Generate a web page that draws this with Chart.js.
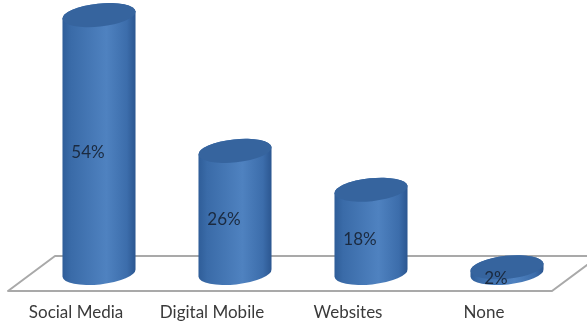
<!DOCTYPE html>
<html>
<head>
<meta charset="utf-8">
<style>
  html, body { margin: 0; padding: 0; background: #fff; }
  #wrap { width: 587px; height: 322px; }
</style>
<script src="https://cdn.jsdelivr.net/npm/chart.js@4/dist/chart.umd.js"></script>
</head>
<body>
<div id="wrap"><canvas id="chart"></canvas></div>
<script>
const categories = ['Social Media', 'Digital Mobile', 'Websites', 'None'];
const shares = [54, 26, 18, 2];

// Oblique projection of the 3D floor and the cylinders standing on it.
const FLOOR_DX = 47, FLOOR_DY = 35;
const BAR_DX = 23, TOP_DY = 14, BASE_DY = 18;
const TILT = -6 * Math.PI / 180;
const CAP_RY = 11.5;

const cylinders = {
  id: 'cylinders',
  beforeDatasetsDraw(chart) {
    const { ctx, chartArea: a } = chart;
    ctx.save();
    ctx.strokeStyle = '#a9a9a9';
    ctx.lineWidth = 2;
    ctx.lineJoin = 'round';
    ctx.beginPath();
    ctx.moveTo(a.left, a.bottom);
    ctx.lineTo(a.right, a.bottom);
    ctx.lineTo(a.right + FLOOR_DX, a.bottom - FLOOR_DY);
    ctx.lineTo(a.left + FLOOR_DX, a.bottom - FLOOR_DY);
    ctx.closePath();
    ctx.stroke();
    ctx.restore();
  },
  afterDatasetsDraw(chart) {
    const { ctx } = chart;
    const yScale = chart.scales.y;
    chart.getDatasetMeta(0).data.forEach((bar, i) => {
      const cx = bar.x + BAR_DX;
      const rx = bar.width / 2;
      const topY = bar.y - TOP_DY;
      const baseY = bar.base - BASE_DY;

      const side = ctx.createLinearGradient(cx - rx, 0, cx + rx, 0);
      side.addColorStop(0, '#2f5d98');
      side.addColorStop(0.12, '#3a6ba8');
      side.addColorStop(0.6, '#4f82c0');
      side.addColorStop(0.88, '#3c6dab');
      side.addColorStop(1, '#2b5690');

      ctx.save();
      ctx.beginPath();
      ctx.ellipse(cx, baseY, rx, CAP_RY, TILT, 0, Math.PI);
      ctx.ellipse(cx, topY, rx, CAP_RY, TILT, Math.PI, 2 * Math.PI);
      ctx.closePath();
      ctx.fillStyle = side;
      ctx.fill();

      ctx.beginPath();
      ctx.ellipse(cx, topY, rx, CAP_RY, TILT, 0, 2 * Math.PI);
      ctx.fillStyle = '#36649e';
      ctx.fill();

      // Value label, set left of the cylinder axis at half height.
      const labelY = yScale.getPixelForValue(shares[i] / 2) - 8;
      ctx.font = '17px Lato, "Open Sans", sans-serif';
      ctx.fillStyle = '#1b2a3f';
      ctx.textAlign = 'center';
      ctx.textBaseline = 'middle';
      ctx.fillText(shares[i] + '%', bar.x + 12, labelY);
      ctx.restore();
    });
  }
};

new Chart(document.getElementById('chart'), {
  type: 'bar',
  data: {
    labels: categories,
    datasets: [{
      data: shares,
      backgroundColor: 'transparent',
      borderWidth: 0,
      categoryPercentage: 1,
      barPercentage: 0.54
    }]
  },
  options: {
    responsive: true,
    maintainAspectRatio: false,
    animation: false,
    layout: { padding: { left: 8, right: 35, top: 0, bottom: 0 } },
    plugins: { legend: { display: false }, tooltip: { enabled: false } },
    scales: {
      x: {
        grid: { display: false, drawTicks: false },
        border: { display: false },
        afterFit(scale) { scale.height = 31; },
        ticks: {
          padding: 11,
          maxRotation: 0,
          color: '#3a3a3a',
          font: { family: 'Lato, "Open Sans", sans-serif', size: 17 }
        }
      },
      y: { display: false, min: 0, max: 60 }
    }
  },
  plugins: [cylinders]
});
</script>
</body>
</html>
